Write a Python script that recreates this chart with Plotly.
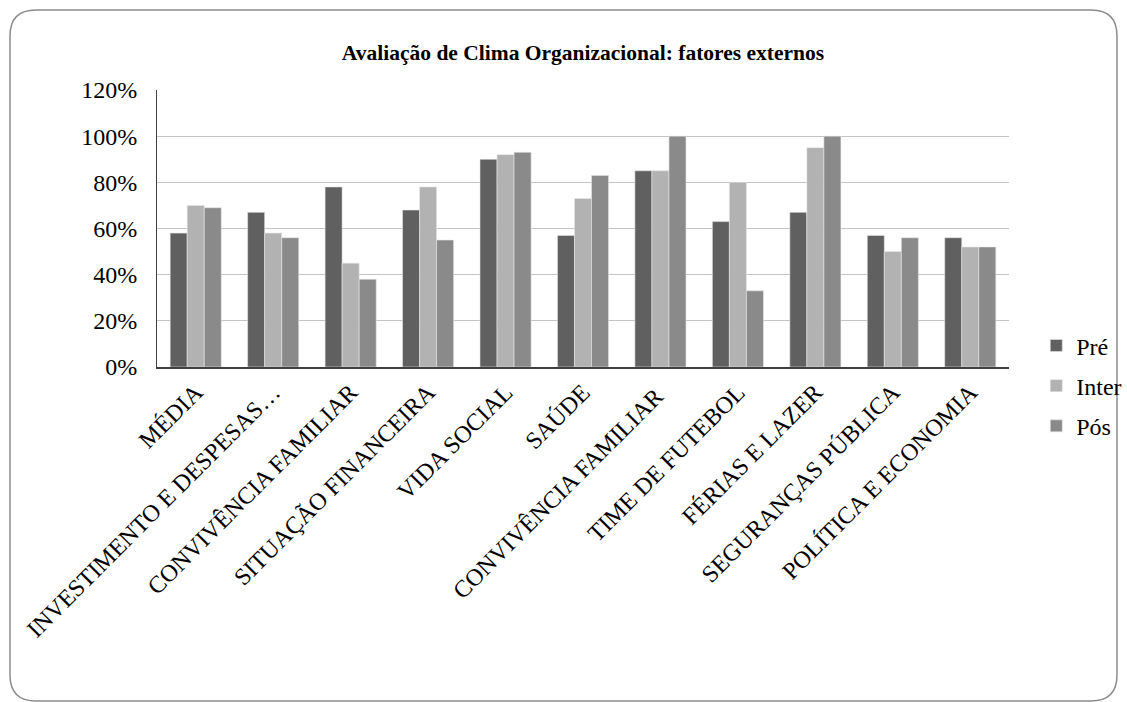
import plotly.graph_objects as go

# Categories and series values (fractions)
categorias = [
    "MÉDIA",
    "INVESTIMENTO E DESPESAS…",
    "CONVIVÊNCIA FAMILIAR",
    "SITUAÇÃO FINANCEIRA",
    "VIDA SOCIAL",
    "SAÚDE",
    "CONVIVÊNCIA FAMILIAR ",
    "TIME DE FUTEBOL",
    "FÉRIAS E LAZER",
    "SEGURANÇAS PÚBLICA",
    "POLÍTICA E ECONOMIA",
]
pre = [0.58, 0.67, 0.78, 0.68, 0.90, 0.57, 0.85, 0.63, 0.67, 0.57, 0.56]
inter = [0.70, 0.58, 0.45, 0.78, 0.92, 0.73, 0.85, 0.80, 0.95, 0.50, 0.52]
pos = [0.69, 0.56, 0.38, 0.55, 0.93, 0.83, 1.00, 0.33, 1.00, 0.56, 0.52]

series = [("Pré", pre, "#606060"), ("Inter", inter, "#b2b2b2"), ("Pós", pos, "#8a8a8a")]

FONT = "Times New Roman, Liberation Serif, serif"
W, H = 1127, 702
ML, MR, MT, MB = 157, 118, 90, 335

fig = go.Figure()
for nome, valores, cor in series:
    fig.add_trace(go.Bar(
        name=nome, x=categorias, y=valores, legendgroup=nome,
        marker=dict(color=cor, line=dict(color="#e6e6e6", width=0.6)),
    ))


def px_to_paper(px, py):
    pw, ph = W - ML - MR, H - MT - MB
    return (px - ML) / pw, 1 - (py - MT) / ph


# Rounded outer frame around the chart
x0, y0, x1, y1, r = 10, 10, 1117, 701, 26
pts = [
    ("M", x0 + r, y0), ("L", x1 - r, y0), ("Q", x1, y0, x1, y0 + r),
    ("L", x1, y1 - r), ("Q", x1, y1, x1 - r, y1),
    ("L", x0 + r, y1), ("Q", x0, y1, x0, y1 - r),
    ("L", x0, y0 + r), ("Q", x0, y0, x0 + r, y0),
]
path = ""
for p in pts:
    cmd, coords = p[0], p[1:]
    conv = []
    for i in range(0, len(coords), 2):
        cx, cy = px_to_paper(coords[i], coords[i + 1])
        conv.append(f"{cx:.5f},{cy:.5f}")
    path += cmd + " ".join(conv) + " "
path += "Z"

fig.add_shape(type="path", path=path, xref="paper", yref="paper",
              line=dict(color="#8c8c8c", width=1.5), layer="below")

fig.update_layout(
    width=W, height=H,
    margin=dict(l=ML, r=MR, t=MT, b=MB, autoexpand=False),
    paper_bgcolor="white", plot_bgcolor="white",
    font=dict(family=FONT, size=24, color="black"),
    title=dict(
        text="<b>Avaliação de Clima Organizacional: fatores externos</b>",
        x=0.5, xanchor="center", xref="paper", y=1 - 52 / H, yanchor="middle",
        font=dict(family=FONT, size=21.5, color="black"),
    ),
    barmode="group", bargap=0.34, bargroupgap=0,
    showlegend=True,
    legend=dict(
        x=1.032, xanchor="left", y=-0.068, yanchor="middle",
        font=dict(family=FONT, size=24, color="black"), tracegroupgap=6,
        bgcolor="rgba(0,0,0,0)",
    ),
    xaxis=dict(
        tickangle=-45, showline=True, linecolor="#404040", linewidth=1.5,
        ticks="", showgrid=False, tickfont=dict(family=FONT, size=24),
    ),
    yaxis=dict(
        range=[0, 1.2], dtick=0.2, tickformat=".0%",
        showline=True, linecolor="#404040", linewidth=1,
        showgrid=True, gridcolor="#c4c4c4", gridwidth=1,
        zeroline=False, ticks="", ticklabelstandoff=14,
        tickfont=dict(family=FONT, size=24),
    ),
)

fig.write_html("out.html")
